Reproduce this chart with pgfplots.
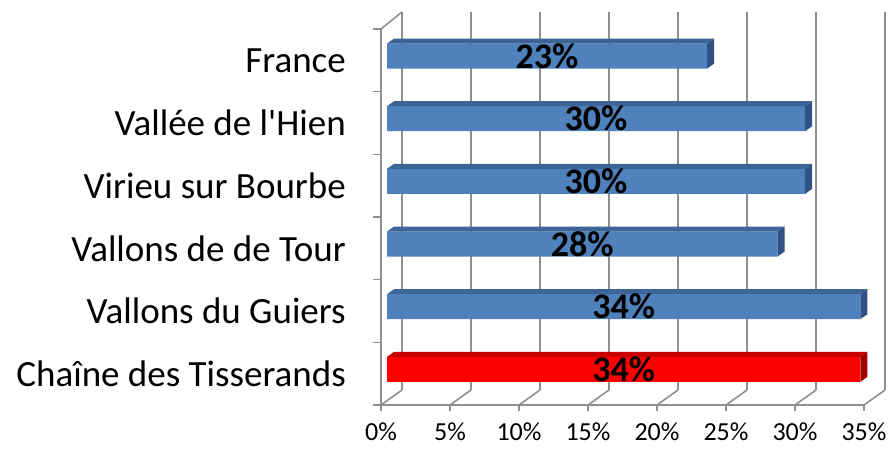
\documentclass[border=0pt]{standalone}
\usepackage{fontspec}
\setmainfont{Carlito}
\usepackage{pgfplots}
\pgfplotsset{compat=1.18}
\definecolor{gridgray}{HTML}{8F8F8F}
\definecolor{bfront}{HTML}{4F81BD}
\definecolor{btop}{HTML}{3C6497}
\definecolor{bside}{HTML}{2F5184}
\definecolor{rfront}{HTML}{FF0000}
\definecolor{rtop}{HTML}{C80000}
\definecolor{rside}{HTML}{A00000}
\begin{document}
\begin{tikzpicture}[x=1pt,y=1pt]
\useasboundingbox (0,0) rectangle (891,448);
% back wall grid
\begin{axis}[
  at={(402pt,58pt)}, anchor=origin, scale only axis,
  width=483pt, height=378pt,
  xmin=0, xmax=35, ymin=0, ymax=378,
  xtick={0,5,...,35}, ytick=\empty,
  xticklabels={}, major tick length=0pt,
  xmajorgrids, major grid style={gridgray, line width=1.6pt},
  axis line style={draw=none},
]
\addplot[draw=none] coordinates {(0,0)};
\end{axis}
% front frame
\begin{axis}[
  at={(381pt,43pt)}, anchor=origin, scale only axis,
  width=483pt, height=376pt,
  xmin=0, xmax=35, ymin=0, ymax=376,
  clip=false,
  axis lines*=left,
  axis line style={gridgray, line width=1.6pt},
  tick align=outside,
  major tick length=6pt, minor tick length=8pt,
  tick style={gridgray, line width=1.6pt},
  xtick={0,5,...,35},
  xticklabels={0\%,5\%,10\%,15\%,20\%,25\%,30\%,35\%},
  xticklabel style={font=\fontsize{26}{30}\selectfont, anchor=north, inner sep=0pt, text depth=0pt, yshift=-12pt},
  ytick={31.33,94,156.67,219.33,282,344.67},
  yticklabels={Cha\^ine des Tisserands,Vallons du Guiers,Vallons de de Tour,Virieu sur Bourbe,Vall\'ee de l\textquotesingle Hien,France},
  major y tick style={draw=none},
  minor ytick={0,62.67,125.33,188,250.67,313.33,376},
  yticklabel style={font=\fontsize{37}{40}\selectfont, anchor=east, inner sep=0pt, xshift=-29pt},
  /pgf/number format/assume math mode=true,
]
\addplot[gridgray, line width=1.6pt, unbounded coords=jump] coordinates {
  (0,0) (1.52,15) (nan,nan)
  (5,0) (6.52,15) (nan,nan)
  (10,0) (11.52,15) (nan,nan)
  (15,0) (16.52,15) (nan,nan)
  (20,0) (21.52,15) (nan,nan)
  (25,0) (26.52,15) (nan,nan)
  (30,0) (31.52,15) (nan,nan)
  (35,0) (36.52,15) (nan,nan)
  (0,376) (1.52,393)
};
\end{axis}
% bars
\begin{axis}[
  at={(387pt,47.3pt)}, anchor=origin, scale only axis,
  width=483pt, height=376pt,
  xmin=0, xmax=35, ymin=0, ymax=376,
  clip=false, hide axis,
]
\addplot[xbar, bar width=25pt, fill=bfront, draw=none] coordinates {
  (23.2,344.67) (30.3,282) (30.3,219.33) (28.3,156.67) (34.3,94)
};
\addplot[xbar, bar width=25pt, fill=rfront, draw=none] coordinates {(34.3,31.33)};
% top faces
\addplot[fill=btop, draw=none] coordinates {(0,357.17)(23.2,357.17)(23.71,362.17)(0.51,362.17)} -- cycle;
\addplot[fill=btop, draw=none] coordinates {(0,294.5)(30.3,294.5)(30.81,299.5)(0.51,299.5)} -- cycle;
\addplot[fill=btop, draw=none] coordinates {(0,231.83)(30.3,231.83)(30.81,236.83)(0.51,236.83)} -- cycle;
\addplot[fill=btop, draw=none] coordinates {(0,169.17)(28.3,169.17)(28.81,174.17)(0.51,174.17)} -- cycle;
\addplot[fill=btop, draw=none] coordinates {(0,106.5)(34.3,106.5)(34.81,111.5)(0.51,111.5)} -- cycle;
\addplot[fill=rtop, draw=none] coordinates {(0,43.83)(34.3,43.83)(34.81,48.83)(0.51,48.83)} -- cycle;
% side faces
\addplot[fill=bside, draw=none] coordinates {(23.2,332.17)(23.71,337.17)(23.71,362.17)(23.2,357.17)} -- cycle;
\addplot[fill=bside, draw=none] coordinates {(30.3,269.5)(30.81,274.5)(30.81,299.5)(30.3,294.5)} -- cycle;
\addplot[fill=bside, draw=none] coordinates {(30.3,206.83)(30.81,211.83)(30.81,236.83)(30.3,231.83)} -- cycle;
\addplot[fill=bside, draw=none] coordinates {(28.3,144.17)(28.81,149.17)(28.81,174.17)(28.3,169.17)} -- cycle;
\addplot[fill=bside, draw=none] coordinates {(34.3,81.5)(34.81,86.5)(34.81,111.5)(34.3,106.5)} -- cycle;
\addplot[fill=rside, draw=none] coordinates {(34.3,18.83)(34.81,23.83)(34.81,48.83)(34.3,43.83)} -- cycle;
% value labels
\addplot[draw=none, mark=none, point meta=explicit symbolic,
  nodes near coords, every node near coord/.style={anchor=center, font=\fontsize{36}{40}\selectfont\bfseries, inner sep=0pt}]
  coordinates {
  (11.6,344.67) [23\%]
  (15.15,282) [30\%]
  (15.15,219.33) [30\%]
  (14.15,156.67) [28\%]
  (17.15,94) [34\%]
  (17.15,31.33) [34\%]
};
\end{axis}
\end{tikzpicture}
\end{document}
